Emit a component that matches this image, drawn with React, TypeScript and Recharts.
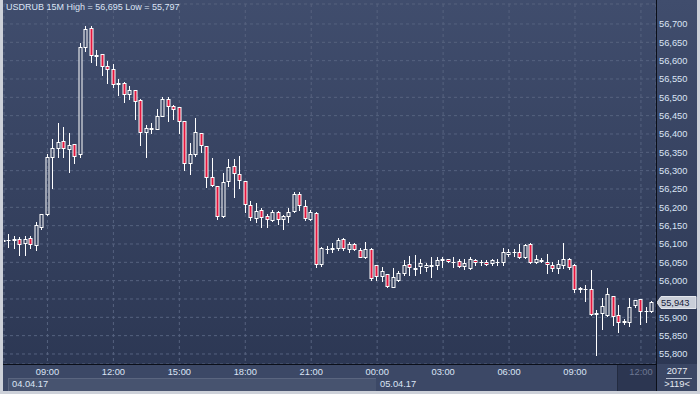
import { ComposedChart, Bar, XAxis, YAxis, CartesianGrid, ReferenceLine } from "recharts";

// 15 minute candles, 04.04.17 07:00 .. 05.04.17 12:30
const startMinute = 7 * 60;
const stepMinutes = 15;

const opens = [
  56.110, 56.111, 56.112, 56.114, 56.102, 56.115, 56.098, 56.147, 56.181, 56.336,
  56.361, 56.380, 56.358, 56.372, 56.345, 56.638, 56.688, 56.615, 56.617, 56.585,
  56.576, 56.538, 56.538, 56.508, 56.519, 56.492, 56.405, 56.414, 56.413, 56.450,
  56.495, 56.475, 56.473, 56.436, 56.320, 56.345, 56.402, 56.367, 56.282, 56.259,
  56.175, 56.272, 56.313, 56.290, 56.273, 56.205, 56.170, 56.193, 56.176, 56.165,
  56.186, 56.169, 56.175, 56.189, 56.236, 56.204, 56.167, 56.185, 56.045, 56.085,
  56.087, 56.088, 56.113, 56.085, 56.100, 56.084, 56.064, 56.085, 56.042, 56.013,
  56.018, 55.984, 56.002, 56.020, 56.045, 56.033, 56.041, 56.036, 56.041, 56.042,
  56.057, 56.058, 56.050, 56.054, 56.040, 56.034, 56.056, 56.051, 56.052, 56.047,
  56.050, 56.052, 56.073, 56.077, 56.077, 56.064, 56.099, 56.052, 56.054, 56.052,
  56.043, 56.034, 56.042, 56.058, 56.043, 55.977, 55.978, 55.978, 55.909, 55.911,
  55.906, 55.959, 55.905, 55.888, 55.888, 55.934, 55.949, 55.916, 55.916,
];

const highs = [
  56.112, 56.126, 56.122, 56.120, 56.122, 56.122, 56.160, 56.181, 56.346, 56.386,
  56.429, 56.418, 56.402, 56.372, 56.647, 56.695, 56.695, 56.629, 56.617, 56.600,
  56.591, 56.550, 56.541, 56.532, 56.519, 56.495, 56.425, 56.429, 56.468, 56.500,
  56.502, 56.479, 56.473, 56.436, 56.376, 56.443, 56.402, 56.367, 56.334, 56.259,
  56.293, 56.332, 56.332, 56.340, 56.273, 56.216, 56.211, 56.199, 56.182, 56.193,
  56.190, 56.179, 56.197, 56.243, 56.243, 56.220, 56.193, 56.188, 56.091, 56.095,
  56.102, 56.115, 56.115, 56.105, 56.104, 56.090, 56.105, 56.090, 56.042, 56.038,
  56.018, 56.034, 56.025, 56.056, 56.067, 56.070, 56.058, 56.047, 56.064, 56.064,
  56.064, 56.059, 56.064, 56.059, 56.059, 56.064, 56.059, 56.056, 56.056, 56.059,
  56.058, 56.088, 56.086, 56.086, 56.100, 56.100, 56.102, 56.070, 56.061, 56.073,
  56.052, 56.055, 56.102, 56.061, 56.045, 55.984, 55.988, 56.029, 55.920, 55.952,
  55.979, 55.959, 55.933, 55.896, 55.952, 55.947, 55.949, 55.927, 55.945,
];

const lows = [
  56.106, 56.093, 56.089, 56.069, 56.071, 56.089, 56.084, 56.140, 56.179, 56.254,
  56.338, 56.336, 56.297, 56.322, 56.338, 56.627, 56.597, 56.588, 56.561, 56.538,
  56.529, 56.506, 56.488, 56.495, 56.441, 56.370, 56.338, 56.402, 56.413, 56.450,
  56.436, 56.441, 56.402, 56.302, 56.290, 56.341, 56.350, 56.256, 56.257, 56.169,
  56.173, 56.259, 56.229, 56.254, 56.186, 56.166, 56.161, 56.147, 56.147, 56.164,
  56.154, 56.142, 56.161, 56.186, 56.193, 56.166, 56.165, 56.038, 56.040, 56.076,
  56.079, 56.084, 56.084, 56.079, 56.084, 56.065, 56.061, 56.002, 56.002, 56.000,
  55.984, 55.982, 55.999, 56.015, 56.015, 56.015, 56.020, 56.025, 56.011, 56.031,
  56.038, 56.052, 56.038, 56.036, 56.031, 56.031, 56.043, 56.043, 56.043, 56.043,
  56.043, 56.043, 56.068, 56.068, 56.061, 56.061, 56.049, 56.047, 56.050, 56.022,
  56.025, 56.022, 56.034, 56.031, 55.970, 55.969, 55.945, 55.906, 55.797, 55.867,
  55.904, 55.879, 55.861, 55.882, 55.875, 55.927, 55.883, 55.888, 55.915,
];

const closes = [
  56.108, 56.112, 56.113, 56.099, 56.113, 56.101, 56.151, 56.181, 56.337, 56.361,
  56.377, 56.362, 56.370, 56.341, 56.636, 56.686, 56.615, 56.613, 56.585, 56.576,
  56.535, 56.536, 56.509, 56.519, 56.491, 56.405, 56.415, 56.416, 56.450, 56.495,
  56.477, 56.469, 56.436, 56.320, 56.345, 56.405, 56.369, 56.284, 56.260, 56.175,
  56.268, 56.309, 56.293, 56.275, 56.208, 56.173, 56.191, 56.173, 56.167, 56.186,
  56.167, 56.175, 56.186, 56.236, 56.205, 56.170, 56.186, 56.045, 56.088, 56.087,
  56.089, 56.111, 56.088, 56.100, 56.085, 56.065, 56.085, 56.008, 56.013, 56.026,
  55.986, 56.009, 56.022, 56.042, 56.038, 56.034, 56.047, 56.043, 56.043, 56.055,
  56.059, 56.054, 56.051, 56.039, 56.047, 56.059, 56.050, 56.052, 56.046, 56.056,
  56.051, 56.077, 56.079, 56.078, 56.064, 56.097, 56.052, 56.058, 56.055, 56.045,
  56.034, 56.045, 56.058, 56.038, 55.978, 55.979, 55.977, 55.909, 55.911, 55.931,
  55.963, 55.904, 55.886, 55.890, 55.929, 55.947, 55.917, 55.918, 55.943,
];

// minutes from 04.04.17 00:00
const timeTicks = [540, 720, 900, 1080, 1260, 1440, 1620, 1800, 1980, 2160];
const priceTicks = [
  55.8, 55.85, 55.9, 55.95, 56.0, 56.05, 56.1, 56.15, 56.2, 56.25,
  56.3, 56.35, 56.4, 56.45, 56.5, 56.55, 56.6, 56.65, 56.7,
];
const dateLabels = ["04.04.17", "05.04.17"];

const data = opens.map((open, i) => ({
  t: startMinute + i * stepMinutes,
  open,
  high: highs[i],
  low: lows[i],
  close: closes[i],
  range: [lows[i], highs[i]],
}));

const lastClose = closes[closes.length - 1];
const fmtPrice = (v: number) => v.toFixed(3).replace(".", ",");
const pad = (n: number) => String(n).padStart(2, "0");
const fmtTime = (t: number) => `${pad(Math.floor(t / 60) % 24)}:${pad(t % 60)}`;

const RED = "#e2163e";
const TEXT = "#dbe4f5";
const FONT = 9.3;

const Candle = (props: any) => {
  const { x, y, width, height, payload } = props;
  const { open, close, high, low } = payload;
  const k = height / (high - low);
  const yOf = (v: number) => y + (high - v) * k;
  const cx = Math.floor(x + width / 2) + 0.5;
  const top = Math.round(yOf(Math.max(open, close)));
  const bot = Math.round(yOf(Math.min(open, close)));
  const yH = Math.round(y);
  const yL = Math.round(y + height);
  const up = close >= open;
  return (
    <g>
      <line x1={cx} x2={cx} y1={yH} y2={top} stroke="#fff" />
      <line x1={cx} x2={cx} y1={bot + 1} y2={yL + 1} stroke="#fff" />
      {bot - top < 1 ? (
        <line x1={cx - 2} x2={cx + 2} y1={top + 0.5} y2={top + 0.5} stroke="#fff" />
      ) : (
        <rect x={cx - 1.5} y={top + 0.5} width={3} height={bot - top} fill={up ? "none" : RED} stroke="#fff" />
      )}
    </g>
  );
};

const TimeTick = (props: any) => {
  const { x, y, payload } = props;
  const dim = payload.value === 2160;
  return (
    <text x={x} y={y} dy="0.71em" textAnchor="middle" fontSize={FONT} fill={dim ? "#6d7792" : TEXT}>
      {fmtTime(payload.value)}
    </text>
  );
};

// the last-price tag covers the tick label next to it
const PriceTick = (props: any) => {
  const { x, y, payload } = props;
  if (Math.abs(payload.value - lastClose) < 0.02) return <g />;
  return (
    <text x={x} y={y} dy="0.355em" textAnchor="start" fontSize={FONT} fill={TEXT}>
      {fmtPrice(payload.value)}
    </text>
  );
};

const PriceTag = (props: any) => {
  const { viewBox } = props;
  const x0 = viewBox.x + viewBox.width + 1;
  const cy = Math.round(viewBox.y) + 0.5;
  return (
    <g>
      <path
        d={`M${x0},${cy} L${x0 + 4},${cy - 6} L${x0 + 39},${cy - 6} L${x0 + 39},${cy + 6} L${x0 + 4},${cy + 6} Z`}
        fill="#c9ced8"
        stroke="#e4e7ed"
      />
      <text x={x0 + 4} y={cy} dy="0.355em" fontSize={FONT} fill="#16213a">
        {fmtPrice(lastClose)}
      </text>
    </g>
  );
};

const abs = (l: number, t: number, w: number, h: number, extra: any = {}) => ({
  position: "absolute" as const,
  left: l,
  top: t,
  width: w,
  height: h,
  ...extra,
});

export default function App() {
  const hi = Math.max(...highs);
  const lo = Math.min(...lows);
  return (
    <div
      style={{
        position: "absolute",
        left: 0,
        top: 0,
        width: 700,
        height: 394,
        background: "#cdd1d9",
        fontFamily: "'Liberation Sans', Arial, sans-serif",
        overflow: "hidden",
      }}
    >
      <div style={abs(3, 0, 694, 391, { background: "linear-gradient(#404d6d, #2b3652)" })} />
      <div style={abs(3, 364, 653, 27, { background: "#3c4866" })} />
      <div style={abs(8, 378, 368, 13, { background: "#47536f", borderTop: "1px solid #5a657f", borderLeft: "1px solid #5a657f", boxSizing: "border-box" })} />
      <div style={abs(617, 364, 39, 27, { background: "#2c3651", borderLeft: "1px solid #232b40", boxSizing: "border-box" })} />
      <div style={abs(657, 364, 40, 27, { background: "#3a4664" })} />

      <div style={{ position: "absolute", left: 0, top: 0 }}>
        <ComposedChart width={700} height={394} data={data} margin={{ top: 4, right: 0, bottom: 0, left: 4 }}>
          <CartesianGrid stroke="#56627f" strokeDasharray="3 3" />
          <XAxis
            dataKey="t"
            type="number"
            domain={[421.4, 2201.1]}
            allowDataOverflow
            ticks={timeTicks}
            interval={0}
            height={30}
            tickSize={0}
            tickMargin={4}
            axisLine={false}
            tick={<TimeTick />}
          />
          <YAxis
            orientation="right"
            type="number"
            domain={[55.7727, 56.7545]}
            allowDataOverflow
            ticks={priceTicks}
            interval={0}
            width={44}
            tickSize={0}
            tickMargin={3}
            axisLine={false}
            tick={<PriceTick />}
          />
          <Bar dataKey="range" barSize={5} shape={Candle} isAnimationActive={false} />
          <ReferenceLine y={lastClose} stroke="none" label={<PriceTag />} />
        </ComposedChart>
      </div>

      <div style={abs(656, 0, 1, 391, { background: "#0b0f19" })} />
      <div style={abs(3, 364, 654, 1, { background: "#0b0f19" })} />

      <div style={abs(6, 1, 300, 12, { color: TEXT, fontSize: 9, lineHeight: "12px", whiteSpace: "nowrap" })}>
        {`USDRUB 15M High = ${fmtPrice(hi)} Low = ${fmtPrice(lo)}`}
      </div>
      <div style={abs(12, 378, 80, 12, { color: TEXT, fontSize: FONT, lineHeight: "12px" })}>{dateLabels[0]}</div>
      <div style={abs(380, 378, 80, 12, { color: TEXT, fontSize: FONT, lineHeight: "12px" })}>{dateLabels[1]}</div>
      <div style={abs(657, 365, 40, 12, { color: "#e6eaf2", fontSize: FONT, lineHeight: "12px", textAlign: "center" })}>2077</div>
      <div style={abs(666, 378, 26, 1, { background: "#b9c1d1" })} />
      <div style={abs(657, 378, 40, 12, { color: "#e6eaf2", fontSize: FONT, lineHeight: "12px", textAlign: "center" })}>
        {">" + data.length + "<"}
      </div>
    </div>
  );
}
